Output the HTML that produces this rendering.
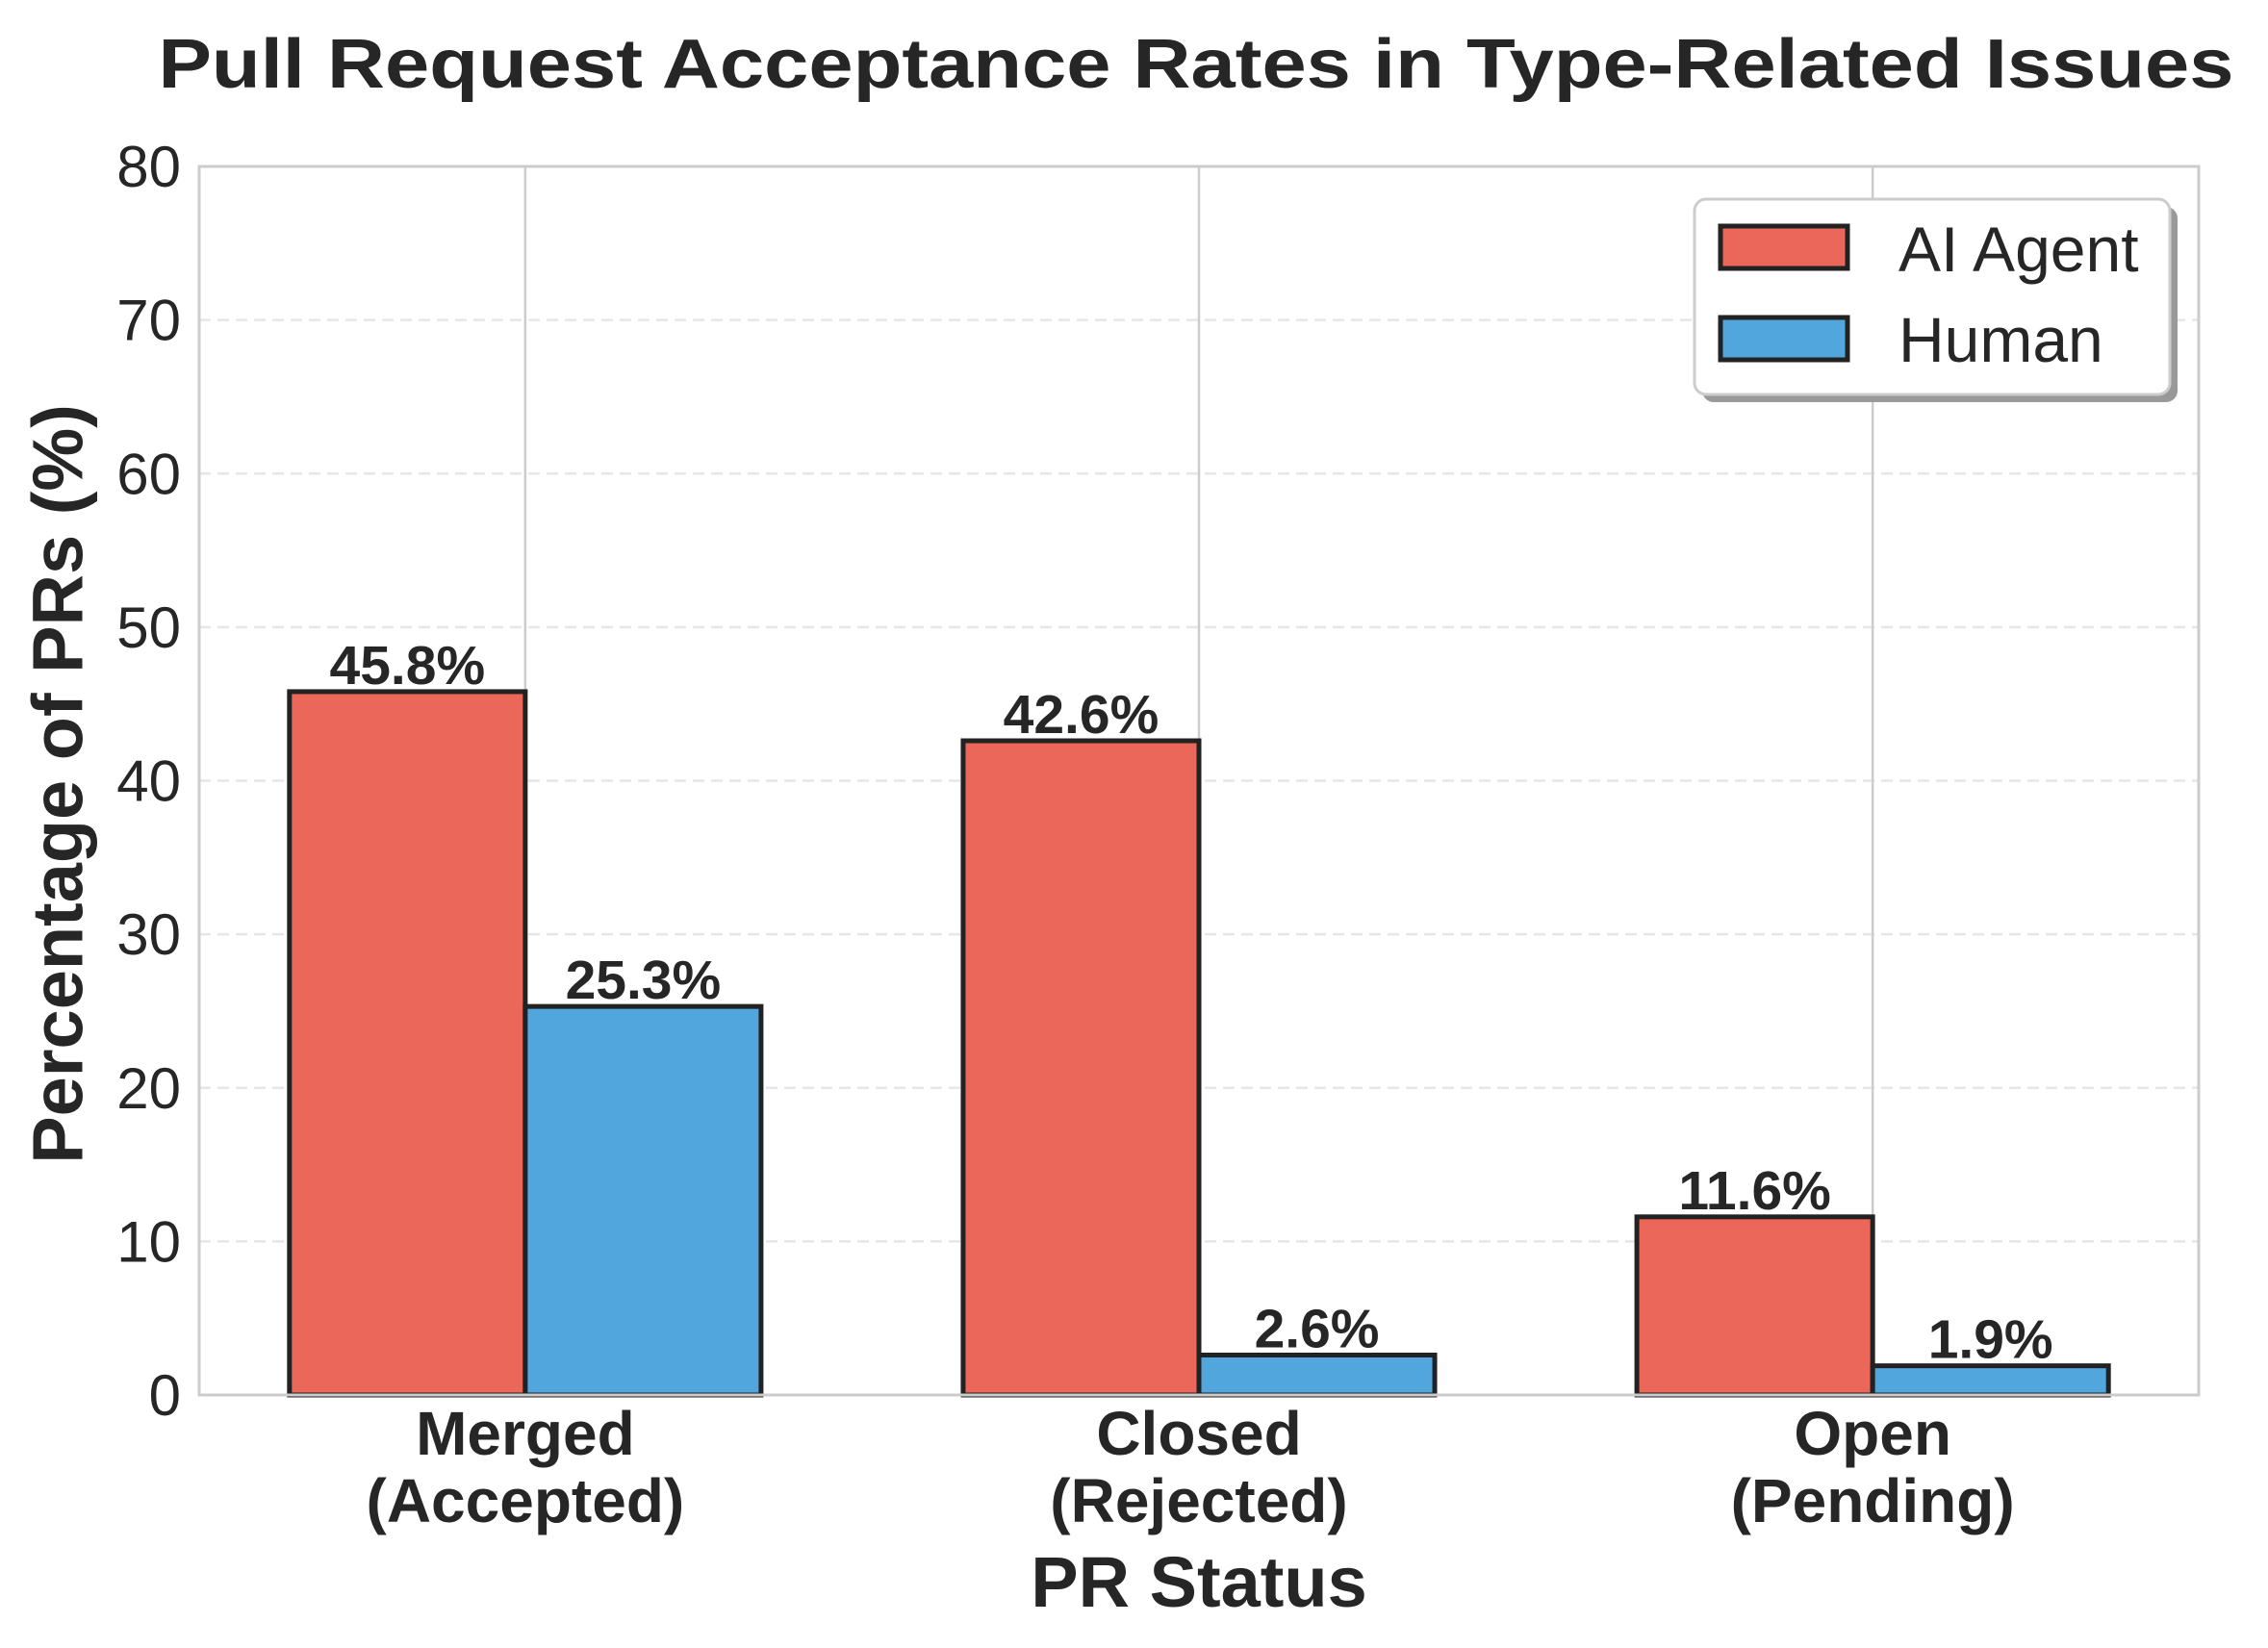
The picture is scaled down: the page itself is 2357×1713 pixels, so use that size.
<!DOCTYPE html>
<html><head><meta charset="utf-8"><style>html,body{margin:0;padding:0;background:#fff}svg{display:block}</style></head>
<body>
<svg id="chart" width="2357" height="1713" viewBox="0 0 2357 1713" xmlns="http://www.w3.org/2000/svg" font-family="'Liberation Sans', Arial, sans-serif">
<rect x="0" y="0" width="2357" height="1713" fill="#fff"/>
<text x="1243" y="91" text-anchor="middle" font-size="72" font-weight="bold" fill="#262626" textLength="2157" lengthAdjust="spacingAndGlyphs">Pull Request Acceptance Rates in Type-Related Issues</text>
<g id="grid"></g>
<g id="bars"></g>
<g id="labels"></g>
<rect x="207" y="173" width="2078" height="1277" fill="none" stroke="#cccccc" stroke-width="3"/>
<g id="ticks"></g>
<text transform="translate(66,815) rotate(-90)" text-anchor="middle" font-size="74" font-weight="bold" fill="#262626" dominant-baseline="middle">Percentage of PRs (%)</text>
<text x="1246" y="1670" text-anchor="middle" font-size="74" font-weight="bold" fill="#262626">PR Status</text>
<g>
<rect x="1769" y="215" width="494" height="203" rx="12" fill="#999"/>
<rect x="1761" y="207" width="494" height="203" rx="12" fill="#fff" stroke="#cccccc" stroke-width="3"/>
<rect x="1788" y="235" width="132" height="44" fill="#EA6759" stroke="#222" stroke-width="5"/>
<text x="1973" y="282" font-size="66" fill="#262626">AI Agent</text>
<rect x="1788" y="330" width="132" height="44" fill="#52A6DE" stroke="#222" stroke-width="5"/>
<text x="1973" y="376" font-size="66" fill="#262626">Human</text>
</g>
</svg>
<script>
const categories = [["Merged","(Accepted)"],["Closed","(Rejected)"],["Open","(Pending)"]];
const aiValues = [45.8, 42.6, 11.6];
const humanValues = [25.3, 2.6, 1.9];
const yTicks = [0,10,20,30,40,50,60,70,80];

const NS = "http://www.w3.org/2000/svg";
const L=207,R=2285,T=173,B=1450;
const xMin=-0.484,xMax=2.484,yMin=0,yMax=80;
const xs = v => L + (v - xMin) / (xMax - xMin) * (R - L);
const ys = v => B - (v - yMin) / (yMax - yMin) * (B - T);
const bw = 0.35;
function mk(tag, attrs, parent){const e=document.createElementNS(NS,tag);for(const k in attrs)e.setAttribute(k,attrs[k]);parent.appendChild(e);return e;}
const grid=document.getElementById('grid'),bars=document.getElementById('bars'),labels=document.getElementById('labels'),ticks=document.getElementById('ticks');

yTicks.forEach(t=>{
  if(t>0&&t<80){
    const g=mk('line',{x1:L,x2:R,y1:ys(t),y2:ys(t),stroke:'#e6e6e6','stroke-width':2.5,'stroke-dasharray':'12,7'},grid);
    
    
  }
  const tx=mk('text',{x:188,y:ys(t)+21,'text-anchor':'end','font-size':60,fill:'#262626'},ticks);
  tx.textContent=t;
  
  
});
categories.forEach((c,i)=>{
  const g=mk('line',{x1:xs(i),x2:xs(i),y1:T,y2:B,stroke:'#cccccc','stroke-width':2.5},grid);
  
  
  const tx=mk('text',{'text-anchor':'middle','font-size':64,'font-weight':'bold',fill:'#262626'},ticks);
  
  
  c.forEach((line,j)=>{const ts=mk('tspan',{x:xs(i),y:1512+j*70},tx);ts.textContent=line;});
});
function drawSeries(vals,off,color,name){
  vals.forEach((v,i)=>{
    const x0=xs(i+off-bw/2),x1=xs(i+off+bw/2);
    const r=mk('rect',{x:x0,y:ys(v),width:x1-x0,height:ys(0)-ys(v),fill:color,stroke:'#222','stroke-width':5},bars);
    
    
    const t=mk('text',{x:(x0+x1)/2,y:ys(v)-8,'text-anchor':'middle','font-size':57,'font-weight':'bold',fill:'#262626'},labels);
    t.textContent=v.toFixed(1)+'%';
    
    
  });
}
drawSeries(aiValues,-bw/2,'#EA6759','ai-agent');
drawSeries(humanValues,bw/2,'#52A6DE','human');
</script>
</body></html>
